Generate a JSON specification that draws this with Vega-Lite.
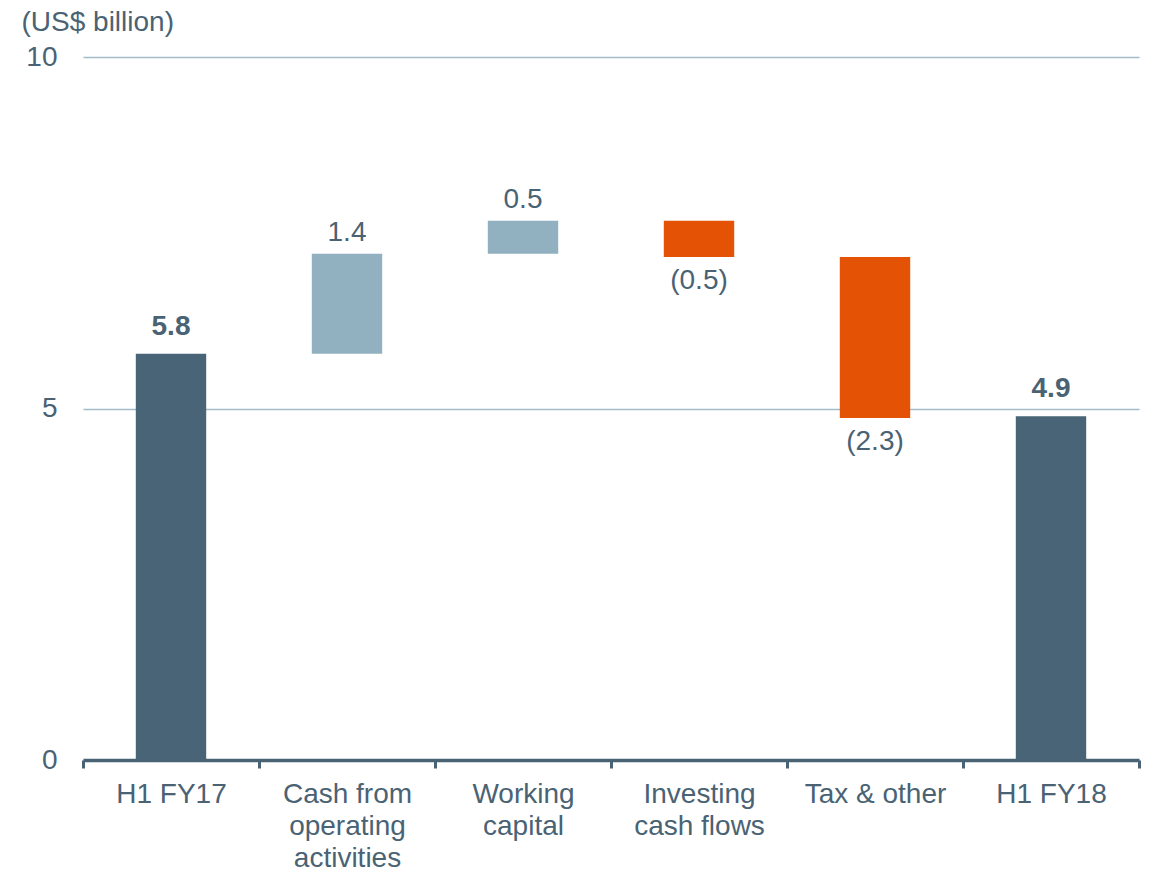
{
  "$schema": "https://vega.github.io/schema/vega-lite/v6.json",
  "width": 1056,
  "height": 703,
  "autosize": {"type": "none"},
  "padding": {"left": 83, "top": 57, "right": 13, "bottom": 114},
  "background": "white",
  "config": {
    "view": {"stroke": null},
    "font": "Liberation Sans",
    "axis": {"labelFont": "Liberation Sans", "titleFont": "Liberation Sans"}
  },
  "data": {
    "values": [
      {"step": "H1 FY17", "start": 0, "end": 5.78, "label": "5.8", "kind": "total"},
      {"step": "Cash from\noperating\nactivities", "start": 5.78, "end": 7.2, "label": "1.4", "kind": "increase"},
      {"step": "Working\ncapital", "start": 7.2, "end": 7.67, "label": "0.5", "kind": "increase"},
      {"step": "Investing\ncash flows", "start": 7.67, "end": 7.155, "label": "(0.5)", "kind": "decrease"},
      {"step": "Tax & other", "start": 7.155, "end": 4.865, "label": "(2.3)", "kind": "decrease"},
      {"step": "H1 FY18", "start": 0, "end": 4.89, "label": "4.9", "kind": "total"}
    ]
  },
  "encoding": {
    "x": {
      "field": "step",
      "type": "nominal",
      "sort": null,
      "scale": {"paddingInner": 0, "paddingOuter": 0},
      "axis": {
        "title": null,
        "labelAngle": 0,
        "labelExpr": "split(datum.label, '\\n')",
        "labelFontSize": 28,
        "labelColor": "#4a6374",
        "labelLineHeight": 32,
        "labelBaseline": "top",
        "labelPadding": 12,
        "tickBand": "extent",
        "ticks": true,
        "tickSize": 8,
        "tickWidth": 3,
        "tickColor": "#4a6374",
        "domainColor": "#4a6374",
        "domainWidth": 3.5,
        "grid": false
      }
    }
  },
  "layer": [
    {
      "mark": {"type": "bar", "width": {"band": 0.4}},
      "encoding": {
        "y": {
          "field": "start",
          "type": "quantitative",
          "scale": {"domain": [0, 10], "nice": false, "zero": true},
          "axis": {
            "values": [0, 5, 10],
            "format": "d",
            "title": "(US$ billion)",
            "titleAngle": 0,
            "titleAlign": "left",
            "titleBaseline": "alphabetic",
            "titleX": -62,
            "titleY": -27,
            "titleFontSize": 28,
            "titleFontWeight": "normal",
            "titleColor": "#4a6374",
            "labelFontSize": 28,
            "labelColor": "#4a6374",
            "labelAlign": "right",
            "labelBaseline": "middle",
            "labelPadding": 26,
            "ticks": false,
            "tickSize": 0,
            "domain": false,
            "grid": true,
            "gridColor": "#a3bcc9",
            "gridWidth": 1.5
          }
        },
        "y2": {"field": "end"},
        "color": {
          "field": "kind",
          "type": "nominal",
          "scale": {"domain": ["total", "increase", "decrease"], "range": ["#496476", "#91b1c1", "#e35205"]},
          "legend": null
        }
      }
    },
    {
      "transform": [{"filter": "datum.kind === 'total'"}],
      "mark": {"type": "text", "baseline": "alphabetic", "dy": -19, "fontSize": 28, "fontWeight": "bold", "color": "#4a6374"},
      "encoding": {
        "y": {"field": "end", "type": "quantitative"},
        "text": {"field": "label"}
      }
    },
    {
      "transform": [{"filter": "datum.kind === 'increase'"}],
      "mark": {"type": "text", "baseline": "alphabetic", "dy": -13, "fontSize": 28, "color": "#4a6374"},
      "encoding": {
        "y": {"field": "end", "type": "quantitative"},
        "text": {"field": "label"}
      }
    },
    {
      "transform": [{"filter": "datum.kind === 'decrease'"}],
      "mark": {"type": "text", "baseline": "top", "dy": 10, "fontSize": 28, "color": "#4a6374"},
      "encoding": {
        "y": {"field": "end", "type": "quantitative"},
        "text": {"field": "label"}
      }
    }
  ]
}
